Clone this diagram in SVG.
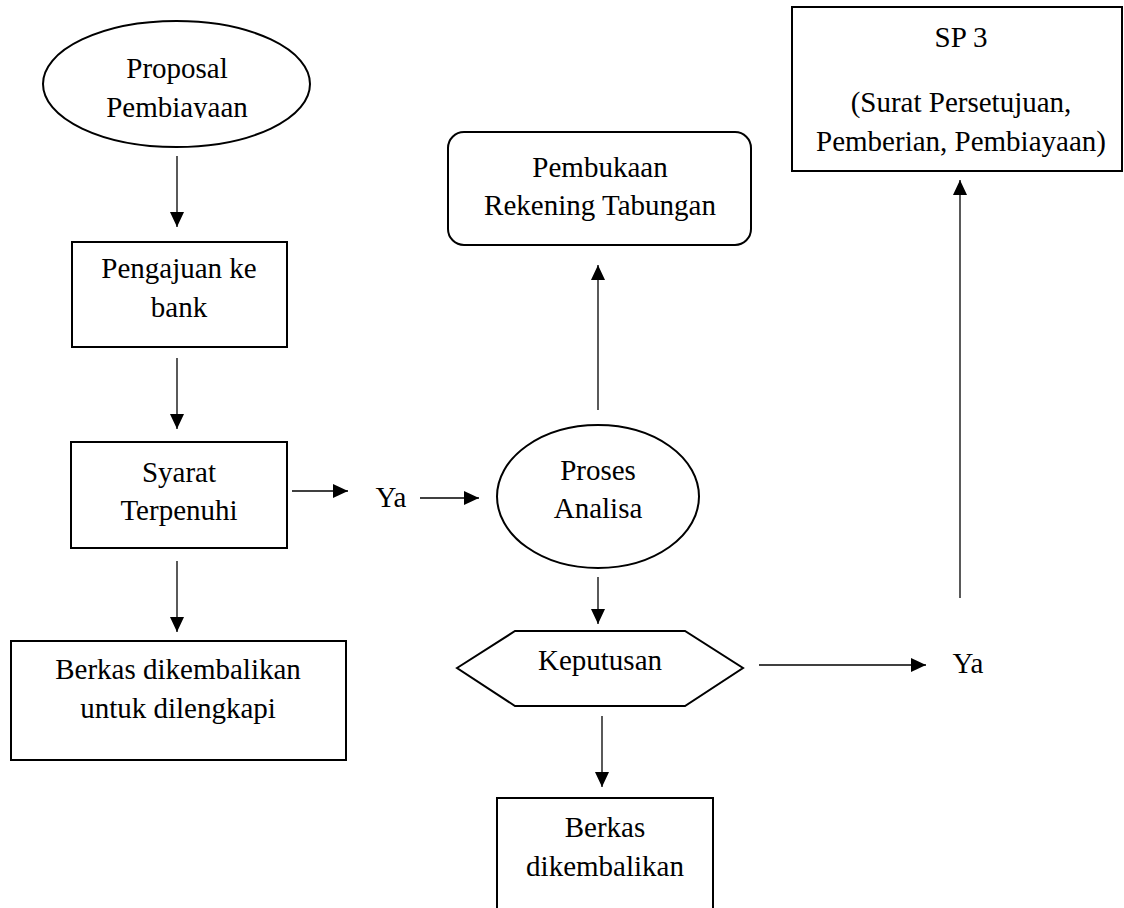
<svg xmlns="http://www.w3.org/2000/svg" width="1124" height="908" viewBox="0 0 1124 908">
<style>
.node{fill:#fff;stroke:#000;stroke-width:2}
.t{font-family:'Liberation Serif','Times New Roman','DejaVu Serif',serif;font-size:29px;fill:#000;text-anchor:middle}
.c{stroke:#000;stroke-width:1.3;fill:none}
</style>
<defs>
<marker id="ah" markerUnits="userSpaceOnUse" markerWidth="16" markerHeight="14" refX="15" refY="7" orient="auto">
<path d="M0,0 L15,7 L0,14 z" fill="#000"/>
</marker>
<clipPath id="clipProp"><rect x="0" y="0" width="400" height="118"/></clipPath>
</defs>
<rect width="1124" height="908" fill="#fff"/>
<g id="proposal">
<ellipse class="node" cx="176.5" cy="84" rx="133.5" ry="63"/>
<text class="t" x="177" y="78">Proposal</text>
<text class="t" x="177" y="117" clip-path="url(#clipProp)">Pembiayaan</text>
</g>
<g id="pengajuan">
<rect class="node" x="72" y="242" width="215" height="105"/>
<text class="t" x="179" y="278">Pengajuan ke</text>
<text class="t" x="179" y="317">bank</text>
</g>
<g id="syarat">
<rect class="node" x="71" y="442" width="216" height="106"/>
<text class="t" x="179" y="482">Syarat</text>
<text class="t" x="179" y="520">Terpenuhi</text>
</g>
<g id="berkas1">
<rect class="node" x="11" y="641" width="335" height="119"/>
<text class="t" x="178" y="679">Berkas dikembalikan</text>
<text class="t" x="178" y="718">untuk dilengkapi</text>
</g>
<g id="ya1"><text class="t" x="391" y="507">Ya</text></g>
<g id="proses">
<ellipse class="node" cx="598" cy="496.5" rx="101" ry="71.5"/>
<text class="t" x="598" y="480">Proses</text>
<text class="t" x="598" y="518">Analisa</text>
</g>
<g id="pembukaan">
<rect class="node" x="448" y="132" width="303" height="113" rx="16" ry="16"/>
<text class="t" x="600" y="177">Pembukaan</text>
<text class="t" x="600" y="215">Rekening Tabungan</text>
</g>
<g id="sp3">
<rect class="node" x="792" y="7" width="330" height="164"/>
<text class="t" x="961" y="47">SP 3</text>
<text class="t" x="961" y="112">(Surat Persetujuan,</text>
<text class="t" x="961" y="151">Pemberian, Pembiayaan)</text>
</g>
<g id="keputusan">
<polygon class="node" points="457,668 515,631 685,631 743,668 685,706 515,706"/>
<text class="t" x="600" y="670">Keputusan</text>
</g>
<g id="ya2"><text class="t" x="968" y="673">Ya</text></g>
<g id="berkas2">
<rect class="node" x="497" y="798" width="216" height="130"/>
<text class="t" x="605" y="837">Berkas</text>
<text class="t" x="605" y="876">dikembalikan</text>
</g>
<g id="connectors">
<line class="c" x1="177" y1="156" x2="177" y2="227" marker-end="url(#ah)"/>
<line class="c" x1="177" y1="358" x2="177" y2="429" marker-end="url(#ah)"/>
<line class="c" x1="177" y1="561" x2="177" y2="632" marker-end="url(#ah)"/>
<line class="c" x1="292" y1="491" x2="348" y2="491" marker-end="url(#ah)"/>
<line class="c" x1="420" y1="498" x2="479" y2="498" marker-end="url(#ah)"/>
<line class="c" x1="598" y1="410" x2="598" y2="265" marker-end="url(#ah)"/>
<line class="c" x1="598" y1="577" x2="598" y2="624" marker-end="url(#ah)"/>
<line class="c" x1="602" y1="716" x2="602" y2="787" marker-end="url(#ah)"/>
<line class="c" x1="759" y1="665" x2="926" y2="665" marker-end="url(#ah)"/>
<line class="c" x1="960" y1="598" x2="960" y2="180" marker-end="url(#ah)"/>
</g>
</svg>
